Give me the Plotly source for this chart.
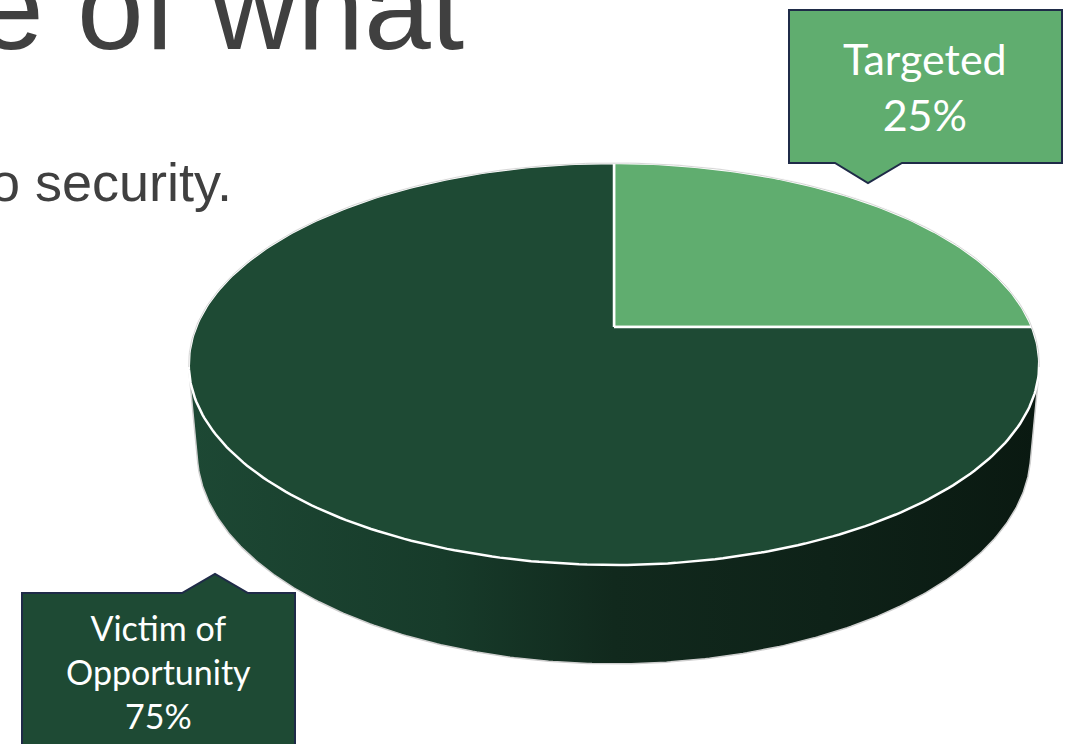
import numpy as np
import plotly.graph_objects as go

# ---------------- data ----------------
labels = ["Targeted", "Victim of Opportunity"]
values = [25, 75]
label_text = ["Targeted<br>25%", "Victim of<br>Opportunity<br>75%"]
title_fragment = "e of what"
body_fragment = "o security."

# ---------------- styles ----------------
slice_colors = ["#60ad6f", "#1e4a34"]
side_scale = [[0.0, "#1d4834"], [0.3, "#173b2a"], [0.5, "#11291d"],
              [0.75, "#0e2218"], [1.0, "#0a1911"]]
W, H = 1073, 744

# perspective disk geometry (pixel space)
CX, CY = 614, 327
A, B, K = 418, 194.2, 0.184
DEPTH, KB, XS = 86, 0.13, 0.98


def top_pt(phi):
    s, t = np.sin(phi), np.cos(phi)
    d = 1 + K * t
    return CX + A * s / d, CY - B * t / d


def bot_pt(phi):
    s, t = np.sin(phi), np.cos(phi)
    d = 1 + K * t
    return CX + XS * A * s / d, CY - B * t / d + DEPTH / (1 + KB * t)


def hull(pts):
    pts = sorted(set(pts))
    def cross(o, a, b):
        return (a[0]-o[0])*(b[1]-o[1]) - (a[1]-o[1])*(b[0]-o[0])
    lower, upper = [], []
    for p in pts:
        while len(lower) >= 2 and cross(lower[-2], lower[-1], p) <= 0:
            lower.pop()
        lower.append(p)
    for p in reversed(pts):
        while len(upper) >= 2 and cross(upper[-2], upper[-1], p) <= 0:
            upper.pop()
        upper.append(p)
    return lower[:-1] + upper[:-1]


fig = go.Figure()

# side of the cylinder (hull of top and bottom disks)
phis = np.linspace(0, 2*np.pi, 721)
tx, ty = top_pt(phis)
bx, by = bot_pt(phis)
pts = [(round(float(x), 3), round(float(y), 3)) for x, y in zip(np.r_[tx, bx], np.r_[ty, by])]
hp = hull(pts)
hx = [p[0] for p in hp] + [hp[0][0]]
hy = [p[1] for p in hp] + [hp[0][1]]
fig.add_trace(go.Scatter(x=hx, y=hy, mode="lines", fill="toself",
                         fillgradient=dict(type="horizontal", colorscale=side_scale),
                         line=dict(width=0), hoverinfo="skip"))

# faint outline of whole shape
fig.add_trace(go.Scatter(x=hx, y=hy, mode="lines",
                         line=dict(color="#cfcfcf", width=1.5), hoverinfo="skip"))

# top slices from data
total = float(sum(values))
cum = np.cumsum([0] + values) / total
for i, lab in enumerate(labels):
    a0, a1 = 2*np.pi*cum[i], 2*np.pi*cum[i+1]
    n = max(int(400*(cum[i+1]-cum[i])), 20)
    ph = np.linspace(a0, a1, n)
    xs, ys = top_pt(ph)
    fig.add_trace(go.Scatter(x=np.r_[CX, xs, CX], y=np.r_[CY, ys, CY],
                             mode="lines", fill="toself", fillcolor=slice_colors[i],
                             line=dict(color="white", width=2.5), name=lab,
                             hoverinfo="text", text=f"{lab}: {values[i]}%"))

# back rim outline on top
bp = np.linspace(-np.pi/2 - 0.2, np.pi/2 + 0.2, 200)
rx, ry = top_pt(bp)
fig.add_trace(go.Scatter(x=rx, y=ry, mode="lines",
                         line=dict(color="#d6d6d6", width=1), hoverinfo="skip"))

# callout boxes
shapes = [
    dict(type="path", xref="x", yref="y", layer="above",
         path="M 789,10 L 1062,10 L 1062,163 L 902,163 L 868,183 L 835,163 L 789,163 Z",
         fillcolor=slice_colors[0], line=dict(color="#1f2b48", width=2)),
    dict(type="path", xref="x", yref="y", layer="above",
         path="M 22,593 L 182,593 L 215,574 L 248,593 L 295,593 L 295,760 L 22,760 Z",
         fillcolor=slice_colors[1], line=dict(color="#1f2b48", width=2)),
]

annotations = [
    dict(text=title_fragment, x=466, y=76, xref="x", yref="y", xanchor="right",
         yanchor="bottom", showarrow=False,
         font=dict(family="Liberation Sans", size=120, color="#404040")),
    dict(text=body_fragment, x=234, y=214, xref="x", yref="y", xanchor="right",
         yanchor="bottom", showarrow=False,
         font=dict(family="Liberation Sans", size=54, color="#404040")),
    dict(text=label_text[0], x=925, y=86, xref="x", yref="y", xanchor="center",
         yanchor="middle", showarrow=False,
         font=dict(family="Lato", size=43, color="white")),
    dict(text=label_text[1], x=158.5, y=671, xref="x", yref="y", xanchor="center",
         yanchor="middle", showarrow=False,
         font=dict(family="Lato", size=34, color="white")),
]

fig.update_layout(
    width=W, height=H, margin=dict(l=0, r=0, t=0, b=0),
    paper_bgcolor="white", plot_bgcolor="white", showlegend=False,
    xaxis=dict(range=[0, W], visible=False, fixedrange=True),
    yaxis=dict(range=[H, 0], visible=False, fixedrange=True),
    shapes=shapes, annotations=annotations,
)

fig.write_html("out.html")
